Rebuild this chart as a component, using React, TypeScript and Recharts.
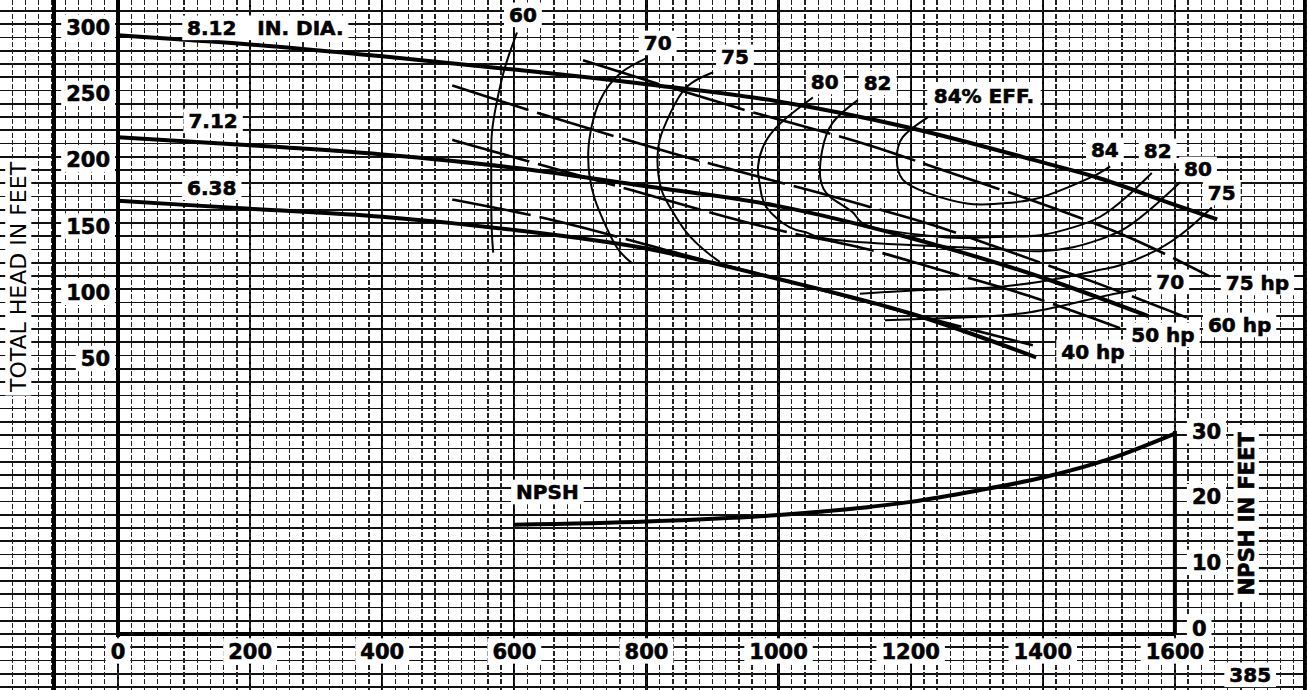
import React from "react";
import {
  ComposedChart,
  Line,
  XAxis,
  YAxis,
  ReferenceLine,
  ReferenceDot,
} from "recharts";

type Pair = [number, number];

// Pump curve sheet: capacity (gpm) against total head (ft) and NPSH (ft).
const capacityTicks = [0, 200, 400, 600, 800, 1000, 1200, 1400, 1600];
const headTicks = [50, 100, 150, 200, 250, 300];
const npshTicks = [0, 10, 20, 30];

// impeller diameters
const dia812: Pair[] = [
  [0, 294], [200, 287], [400, 278], [600, 268], [800, 257], [1000, 244],
  [1200, 224], [1400, 198], [1480, 187], [1600, 166], [1664, 155],
];
const dia712: Pair[] = [
  [0, 217], [200, 211], [400, 204], [600, 194], [800, 180], [1000, 165],
  [1200, 141], [1400, 111], [1560, 82],
];
const dia638: Pair[] = [
  [0, 169], [200, 163], [400, 157], [600, 147], [800, 133], [1000, 110],
  [1200, 84], [1390, 51],
];

// iso-efficiency contours, in drawing order
const eff60: Pair[] = [
  [604, 296], [586, 270], [574, 245], [566, 220], [565, 195], [565, 170],
  [566, 145], [568, 130],
];
const eff70Left: Pair[] = [
  [802, 277], [760, 265], [730, 245], [717, 225], [712, 207], [714, 187],
  [722, 170], [734, 155], [755, 134], [778, 122],
];
const eff70Right: Pair[] = [
  [1161, 79], [1279, 81], [1381, 85], [1482, 96], [1542, 102],
];
const eff75Left: Pair[] = [
  [901, 266], [861, 255], [836, 235], [820, 215], [817, 195], [823, 177],
  [836, 164], [861, 145], [892, 130], [911, 123],
];
const eff75Right: Pair[] = [
  [1123, 99], [1229, 102], [1331, 104], [1430, 111], [1487, 117],
  [1521, 121], [1573, 132], [1618, 147], [1656, 164],
];
const eff80: Pair[] = [
  [1052, 247], [1013, 232], [982, 215], [969, 195], [972, 180], [982, 164],
  [1017, 149], [1043, 145], [1078, 140], [1184, 136], [1275, 134],
  [1350, 132], [1396, 131], [1446, 134], [1487, 140], [1527, 149],
  [1573, 167], [1608, 183],
];
const eff82: Pair[] = [
  [1120, 245], [1082, 228], [1066, 207], [1063, 187], [1078, 172],
  [1113, 160], [1143, 149], [1244, 142], [1294, 141], [1346, 142],
  [1396, 143], [1446, 149], [1487, 157], [1527, 172], [1565, 190],
];
const eff84: Pair[] = [
  [1226, 232], [1188, 217], [1179, 200], [1188, 185], [1225, 175],
  [1285, 167], [1335, 167], [1385, 170], [1437, 179], [1482, 189],
  [1502, 195],
];

// brake horsepower lines
const hp75: Pair[] = [
  [704, 275], [939, 239], [1143, 210], [1267, 189], [1414, 164],
  [1537, 140], [1653, 112],
];
const hp60: Pair[] = [
  [506, 256], [657, 232], [846, 204], [1120, 167], [1244, 149],
  [1331, 134], [1487, 106], [1618, 81],
];
const hp50: Pair[] = [
  [506, 215], [778, 177], [982, 149], [1154, 130], [1244, 117],
  [1381, 97], [1517, 73],
];
const hp40: Pair[] = [
  [506, 170], [654, 155], [851, 129], [1032, 106], [1184, 86], [1385, 60],
];

const npshCurve: Pair[] = [
  [600, 15.7], [800, 16.2], [1000, 17.2], [1200, 19.2], [1300, 20.9],
  [1400, 22.9], [1500, 25.7], [1600, 29.6],
];

// text placed on the sheet, anchored in chart units
const diaLabels = [
  { text: "8.12\u00a0\u00a0\u00a0IN. DIA.", q: 223, h: 299.5 },
  { text: "7.12", q: 144, h: 229.3 },
  { text: "6.38", q: 142, h: 178.8 },
];
const effLabels = [
  { text: "60", q: 613, h: 309.3 },
  { text: "70", q: 817, h: 288.1 },
  { text: "75", q: 934, h: 277.6 },
  { text: "80", q: 1070, h: 258.7 },
  { text: "82", q: 1150, h: 258.0 },
  { text: "84% EFF.", q: 1311, h: 248.2 },
  { text: "84", q: 1494, h: 207.4 },
  { text: "82", q: 1574, h: 206.7 },
  { text: "80", q: 1635, h: 193.1 },
  { text: "75", q: 1671, h: 175.0 },
  { text: "70", q: 1593, h: 107.9 },
];
const hpLabels = [
  { text: "75 hp", q: 1725, h: 107.1 },
  { text: "60 hp", q: 1698, h: 75.4 },
  { text: "50 hp", q: 1582, h: 67.9 },
  { text: "40 hp", q: 1476, h: 55.1 },
];

const WIDTH = 1307;
const HEIGHT = 690;
const FONT = "'DejaVu Sans', sans-serif";
const Q_DOMAIN: [number, number] = [0, 1800];
const HEAD_DOMAIN: [number, number] = [-160, 320.5];
const NPSH_DOMAIN: [number, number] = [-1.37, 95.6];
const PLOT_LEFT = 118;
const PLOT_BOTTOM = 637;
const qPx = (WIDTH - PLOT_LEFT) / (Q_DOMAIN[1] - Q_DOMAIN[0]);
const ftPx = PLOT_BOTTOM / (HEAD_DOMAIN[1] - HEAD_DOMAIN[0]);

const toHead = (pairs: Pair[]) => pairs.map(([q, h]) => ({ q, h }));
const toNpsh = (pairs: Pair[]) => pairs.map(([q, n]) => ({ q, n }));

const BOLD_W: Record<string, number> = {
  ".": 0.38, " ": 0.348, "\u00a0": 0.348, "%": 1.0, E: 0.683, F: 0.683,
  I: 0.372, N: 0.837, D: 0.83, A: 0.774, h: 0.712, p: 0.716, P: 0.733,
  S: 0.72, H: 0.837, T: 0.682, O: 0.85, L: 0.637,
};

function textWidth(text: string, size: number, weight: number) {
  let w = 0;
  for (const c of text) {
    w += /[0-9]/.test(c) ? 0.696 : BOLD_W[c] ?? 0.75;
  }
  return w * size * (weight >= 700 ? 1 : 0.88);
}

interface TagProps {
  cx: number;
  cy: number;
  text: string;
  size?: number;
  weight?: number;
  anchor?: "start" | "middle" | "end";
  rotate?: number;
}

/** Bold label knocked out of the graph paper with a white box. */
function Tag({ cx, cy, text, size = 20, weight = 700, anchor = "middle", rotate = 0 }: TagProps) {
  const w = textWidth(text, size, weight);
  const left = anchor === "middle" ? cx - w / 2 : anchor === "end" ? cx - w : cx;
  const cap = size * 0.73;
  const heavy = weight >= 700;
  return (
    <g transform={rotate ? `rotate(${rotate} ${cx} ${cy})` : undefined}>
      <rect x={left - 5} y={cy - cap / 2 - 5} width={w + 10} height={cap + 10} fill="#fff" />
      <text
        x={cx}
        y={cy + cap / 2}
        textAnchor={anchor}
        fontFamily={FONT}
        fontSize={size}
        fontWeight={weight}
        fill="#000"
        stroke={heavy ? "#000" : "none"}
        strokeWidth={heavy ? 0.6 : 0}
        style={{ whiteSpace: "pre" }}
      >
        {text}
      </text>
    </g>
  );
}

const XTick = ({ x, y, payload }: any) => (
  <Tag cx={x} cy={y + 14} text={String(payload.value)} size={21} />
);
const HeadTick = ({ x, y, payload }: any) => (
  <Tag cx={x - 8} cy={y} text={String(payload.value)} anchor="end" size={21} />
);

// graph paper ruling, one CSS layer per set of lines
function stripes(dir: "right" | "bottom", origin: number, pitch: number, width: number, color: string) {
  let s = (((origin - width / 2) % pitch) + pitch) % pitch;
  if (s > pitch - width) s = pitch - width;
  return `repeating-linear-gradient(to ${dir}, transparent 0px ${s}px, ${color} ${s}px ${s + width}px, transparent ${s + width}px ${pitch}px)`;
}

const AXIS_HEAD = -157.7;

export default function App() {
  const lineBase = { dot: false, activeDot: false, isAnimationActive: false, stroke: "#000" } as const;
  const dashMask = "repeating-linear-gradient(to bottom, #000 0px 5px, transparent 5px 7px)";
  return (
    <div
      style={{
        position: "absolute",
        left: 0,
        top: 0,
        width: WIDTH,
        height: HEIGHT,
        overflow: "hidden",
        backgroundColor: "#fff",
        backgroundImage: [
          stripes("bottom", 634, 10 * ftPx, 1.7, "#111"),
          stripes("right", PLOT_LEFT, 200 * qPx, 2.2, "#000"),
        ].join(","),
      }}
    >
      <div
        style={{
          position: "absolute",
          inset: 0,
          backgroundImage: stripes("right", PLOT_LEFT, 20 * qPx, 1.3, "#222"),
          WebkitMaskImage: dashMask,
          maskImage: dashMask,
        }}
      />
      <div style={{ position: "absolute", left: 52, top: 0, width: 4, height: HEIGHT, background: "#000" }} />
      <div style={{ position: "absolute", left: 1303, top: 0, width: 3, height: HEIGHT, background: "#000" }} />
      <div style={{ position: "absolute", left: 0, top: 0 }}>
        <ComposedChart width={WIDTH} height={HEIGHT} margin={{ top: 0, right: 0, bottom: 0, left: 0 }}>
          <XAxis
            dataKey="q"
            type="number"
            domain={Q_DOMAIN}
            ticks={capacityTicks}
            interval={0}
            allowDataOverflow
            axisLine={false}
            tickLine={false}
            tickSize={0}
            tickMargin={0}
            height={HEIGHT - PLOT_BOTTOM}
            tick={XTick}
          />
          <YAxis
            yAxisId="head"
            type="number"
            domain={HEAD_DOMAIN}
            ticks={headTicks}
            interval={0}
            allowDataOverflow
            width={PLOT_LEFT}
            axisLine={{ stroke: "#000", strokeWidth: 4 }}
            tickLine={false}
            tickSize={0}
            tickMargin={0}
            tick={HeadTick}
          />
          <YAxis yAxisId="npsh" orientation="right" type="number" domain={NPSH_DOMAIN} allowDataOverflow hide />

          <ReferenceLine
            yAxisId="head"
            segment={[{ x: 0, y: AXIS_HEAD }, { x: 1600, y: AXIS_HEAD }]}
            stroke="#000"
            strokeWidth={4}
          />
          <ReferenceLine
            yAxisId="npsh"
            segment={[{ x: 1600, y: -0.9 }, { x: 1600, y: 30 }]}
            stroke="#000"
            strokeWidth={4}
          />

          {[...diaLabels, ...effLabels, ...hpLabels].map((l, i) => (
            <ReferenceDot
              key={`lab-${i}`}
              yAxisId="head"
              x={l.q}
              y={l.h}
              r={0}
              ifOverflow="visible"
              shape={(p: any) => <Tag cx={p.cx} cy={p.cy} text={l.text} />}
            />
          ))}
          {npshTicks.map((n) => (
            <ReferenceDot
              key={`npsh-${n}`}
              yAxisId="npsh"
              x={1600}
              y={n}
              r={0}
              ifOverflow="visible"
              shape={(p: any) => <Tag cx={p.cx + 17} cy={p.cy} text={String(n)} anchor="start" size={21} />}
            />
          ))}
          <ReferenceDot
            yAxisId="npsh"
            x={650}
            y={20.7}
            r={0}
            ifOverflow="visible"
            shape={(p: any) => <Tag cx={p.cx} cy={p.cy} text="NPSH" />}
          />
          <ReferenceDot
            yAxisId="npsh"
            x={1708}
            y={17.4}
            r={0}
            ifOverflow="visible"
            shape={(p: any) => <Tag cx={p.cx} cy={p.cy} text="NPSH IN FEET" rotate={-90} size={21} />}
          />
          <ReferenceDot
            yAxisId="head"
            x={-151}
            y={111.6}
            r={0}
            ifOverflow="visible"
            shape={(p: any) => (
              <Tag cx={p.cx} cy={p.cy} text="TOTAL HEAD IN FEET" weight={400} rotate={-90} size={22} />
            )}
          />
          <ReferenceDot
            yAxisId="head"
            x={1714}
            y={-188.5}
            r={0}
            ifOverflow="visible"
            shape={(p: any) => <Tag cx={p.cx} cy={p.cy} text="385" />}
          />

          {[eff60, eff70Left, eff70Right, eff75Left, eff75Right, eff80, eff82, eff84].map((d, i) => (
            <Line key={`eff-${i}`} {...lineBase} yAxisId="head" data={toHead(d)} dataKey="h" type="natural" strokeWidth={2} />
          ))}
          {[hp75, hp60, hp50, hp40].map((d, i) => (
            <Line
              key={`hp-${i}`}
              {...lineBase}
              yAxisId="head"
              data={toHead(d)}
              dataKey="h"
              type="monotone"
              strokeWidth={2.6}
              strokeDasharray="80 9"
            />
          ))}
          {[dia812, dia712, dia638].map((d, i) => (
            <Line key={`dia-${i}`} {...lineBase} yAxisId="head" data={toHead(d)} dataKey="h" type="monotone" strokeWidth={4} />
          ))}
          <Line {...lineBase} yAxisId="npsh" data={toNpsh(npshCurve)} dataKey="n" type="monotone" strokeWidth={4} />
        </ComposedChart>
      </div>
    </div>
  );
}
